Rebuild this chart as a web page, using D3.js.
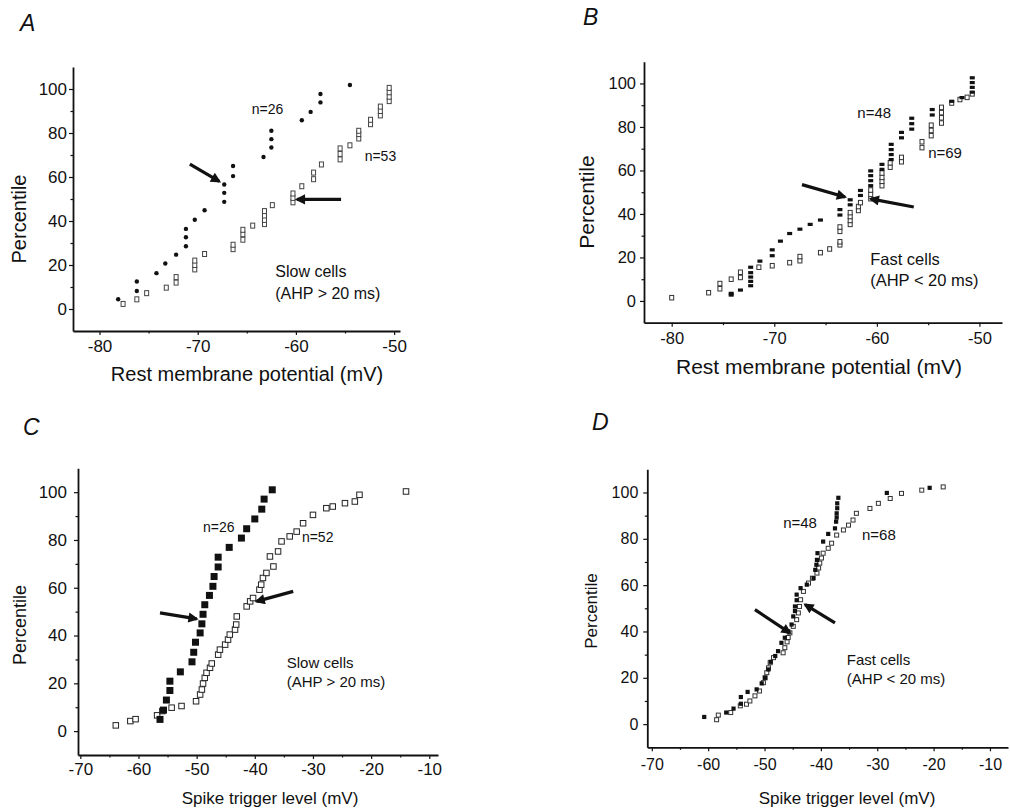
<!DOCTYPE html>
<html>
<head>
<meta charset="utf-8">
<script src="https://cdn.jsdelivr.net/npm/d3@7"></script>
<style>
  body { margin: 0; background: #fff; }
  svg { display: block; }
  text { font-family: "Liberation Sans", Arial, Helvetica, sans-serif; fill: #111; }
</style>
</head>
<body>
<svg id="fig" width="1010" height="810"></svg>
<script>
// ---- Cumulative distributions: [membrane potential (mV), percentile] ----

// A: rest membrane potential, slow cells
const restSlowShort = [ // n=26, filled circles
  [-78.1,4.4],[-76.2,8.2],[-76.2,12.5],[-74.2,16.3],[-73.3,20.7],[-72.2,24.7],[-71.2,28.5],
  [-71.2,32.6],[-71.2,36.4],[-70.3,40.6],[-69.3,44.9],[-67.3,48.7],[-67.3,52.8],[-67.3,56.6],
  [-66.4,60.4],[-66.4,65.0],[-63.3,69.1],[-62.5,73.4],[-62.5,77.2],[-62.5,81.0],[-59.4,85.8],
  [-58.5,89.6],[-57.5,93.9],[-57.5,97.7],[-54.5,101.8]
];
const restSlowLong = [ // n=53, open squares
  [-77.6,2.3],[-76.2,4.4],[-75.2,7.2],[-73.2,9.7],[-72.2,12.0],[-72.2,14.5],[-70.3,18.0],
  [-70.3,20.0],[-70.3,22.0],[-69.3,25.0],[-66.4,27.2],[-66.4,29.2],[-65.4,31.5],[-65.4,34.0],
  [-65.4,36.0],[-64.4,37.9],[-63.2,38.6],[-63.2,40.5],[-63.2,42.5],[-63.2,44.5],[-62.4,47.2],
  [-60.3,48.5],[-60.3,50.5],[-60.3,52.5],[-59.4,55.8],[-58.2,59.0],[-58.2,62.0],[-57.4,65.7],
  [-55.5,68.0],[-55.5,70.5],[-55.5,73.0],[-54.5,74.4],[-53.6,77.5],[-53.6,79.5],[-53.6,81.0],
  [-52.4,84.0],[-52.4,86.0],[-51.4,88.0],[-51.4,90.0],[-51.4,92.0],[-50.5,94.5],[-50.5,96.5],
  [-50.5,98.5],[-50.5,100.5]
];

// B: rest membrane potential, fast cells
const restFastShort = [ // n=48, filled
  [-74.2,2.7],[-74.2,3.5],[-73.3,5.0],[-72.3,7.0],[-72.3,9.0],[-72.3,11.0],[-72.3,13.0],
  [-72.3,15.5],[-71.4,18.3],[-70.2,20.8],[-70.2,23.5],[-69.4,27.5],[-68.5,31.0],[-67.5,33.0],
  [-66.5,35.2],[-65.5,37.2],[-63.6,39.5],[-63.6,42.0],[-62.6,44.2],[-62.6,46.5],[-61.6,48.5],
  [-61.6,50.8],[-60.6,53.0],[-60.6,55.3],[-60.6,57.6],[-60.6,59.8],[-59.5,60.5],[-59.5,62.8],
  [-58.6,65.0],[-58.6,67.3],[-58.6,69.6],[-58.6,72.0],[-57.6,75.0],[-57.6,77.5],[-56.6,79.0],
  [-56.6,81.5],[-56.6,84.0],[-54.6,85.5],[-54.6,88.0],[-52.7,91.8],[-51.7,93.5],[-50.7,96.0],
  [-50.7,98.2],[-50.7,100.4],[-50.7,102.6]
];
const restFastLong = [ // n=69, open
  [-80.0,1.5],[-76.4,3.8],[-75.3,5.6],[-75.3,8.0],[-74.2,10.0],[-73.3,10.8],[-73.3,13.2],
  [-71.5,15.5],[-70.2,16.2],[-68.5,17.6],[-67.5,18.5],[-67.5,20.4],[-65.5,22.2],[-64.6,23.9],
  [-63.6,25.8],[-63.6,27.2],[-63.6,32.0],[-63.6,34.0],[-62.6,35.2],[-62.6,37.0],[-62.6,38.8],
  [-62.6,40.6],[-61.8,41.6],[-61.8,43.4],[-61.6,45.2],[-60.6,47.0],[-60.6,49.0],[-60.6,51.0],
  [-59.5,53.0],[-59.5,55.0],[-59.5,56.8],[-59.5,58.8],[-58.7,61.5],[-58.7,63.5],[-57.6,64.0],
  [-57.6,66.0],[-55.6,70.5],[-55.6,73.2],[-54.7,76.0],[-54.7,78.4],[-54.7,80.8],[-53.7,81.8],
  [-53.7,84.2],[-53.7,86.6],[-53.7,89.0],[-52.7,91.0],[-51.9,92.6],[-51.2,93.6],[-50.7,95.2]
];

// C: spike trigger level, slow cells
const triggerSlowShort = [ // n=26, filled squares
  [-56.3,4.9],[-55.7,8.8],[-55.2,13.0],[-54.6,17.0],[-54.6,20.9],[-52.8,24.8],[-50.8,29.0],
  [-50.5,33.0],[-50.2,37.2],[-49.4,41.1],[-49.1,44.9],[-48.9,48.9],[-48.6,52.9],[-47.8,56.8],
  [-47.2,60.6],[-47.0,64.7],[-46.3,68.7],[-46.3,72.8],[-44.4,76.9],[-42.3,80.8],[-41.4,84.7],
  [-40.0,88.8],[-38.8,92.9],[-38.4,97.1],[-37.0,101.0]
];
const triggerSlowLong = [ // n=52, open squares
  [-63.9,2.4],[-61.4,4.2],[-60.5,5.0],[-56.8,6.6],[-55.9,8.4],[-54.3,9.8],[-52.6,10.5],
  [-50.1,12.5],[-49.4,15.3],[-49.1,17.4],[-48.9,19.9],[-48.6,22.3],[-48.3,24.4],[-47.7,26.5],
  [-47.4,28.3],[-46.3,32.0],[-46.0,34.1],[-45.1,36.2],[-44.6,38.3],[-44.3,40.4],[-43.4,42.5],
  [-43.2,44.6],[-43.1,48.0],[-41.4,52.2],[-40.8,54.3],[-40.3,55.7],[-39.2,59.2],[-38.9,61.3],
  [-38.6,64.1],[-38.0,66.2],[-36.8,68.9],[-37.4,73.1],[-36.0,75.2],[-35.4,79.4],[-34.0,81.5],
  [-32.8,83.5],[-31.7,87.0],[-30.0,90.5],[-27.7,93.3],[-26.6,94.0],[-24.5,95.4],[-22.8,96.1],
  [-22.0,98.9],[-14.0,100.3]
];

// D: spike trigger level, fast cells
const triggerFastShort = [ // n=48, filled
  [-60.7,3.1],[-56.8,5.0],[-55.5,6.7],[-54.2,8.8],[-54.2,11.7],[-53.0,13.9],[-51.4,15.0],
  [-50.5,17.6],[-49.9,20.0],[-49.3,23.6],[-48.9,26.9],[-48.1,29.4],[-47.6,31.5],[-47.0,35.1],
  [-46.4,37.3],[-45.8,40.1],[-45.2,43.0],[-44.9,46.5],[-44.6,48.8],[-44.6,50.8],[-44.3,53.5],
  [-44.3,55.9],[-43.6,58.7],[-42.5,60.2],[-41.3,63.0],[-41.0,66.6],[-40.8,68.8],[-40.7,70.9],
  [-40.6,73.8],[-39.6,78.8],[-38.7,82.1],[-37.5,84.5],[-37.3,87.4],[-37.2,89.2],[-37.2,91.0],
  [-37.1,93.2],[-37.1,95.3],[-36.9,97.7],[-28.3,99.8],[-20.7,102.0]
];
const triggerFastLong = [ // n=68, open
  [-58.5,1.9],[-58.2,3.9],[-56.0,5.0],[-54.3,7.9],[-53.2,8.6],[-52.6,10.0],[-51.7,12.2],
  [-50.9,14.3],[-50.2,17.9],[-49.9,20.0],[-49.6,22.2],[-49.3,24.3],[-49.0,26.5],[-48.4,28.7],
  [-46.7,30.8],[-46.4,33.0],[-46.0,35.5],[-45.8,37.4],[-45.5,39.4],[-44.9,42.2],[-44.3,45.1],
  [-44.0,48.0],[-43.8,50.8],[-43.6,53.7],[-43.1,57.3],[-42.2,60.9],[-41.5,63.0],[-40.7,65.2],
  [-40.4,67.4],[-40.2,69.5],[-39.9,71.7],[-39.6,73.8],[-38.7,75.9],[-38.1,78.1],[-37.2,81.6],
  [-36.0,83.8],[-35.1,85.9],[-34.3,88.1],[-33.7,91.0],[-31.3,93.1],[-29.8,95.3],[-27.7,97.4],
  [-25.7,99.6],[-22.1,101.0],[-18.3,102.4]
];

// ---- Axis ticks ----
const pctTicks = [0, 20, 40, 60, 80, 100];
const pctMinor = [10, 30, 50, 70, 90];
const restTicks = [-80, -70, -60, -50];
const restMinor = [-75, -65, -55];
const trigTicks = [-70, -60, -50, -40, -30, -20, -10];
const trigMinor = [-65, -55, -45, -35, -25, -15];

// ---- Annotations (data units) ----
const notesA = [["n=26", -64.5, 90.9], ["n=53", -53.0, 69.4], ["Slow cells", -62.1, 16.9], ["(AHP > 20 ms)", -62.1, 7.3]];
const notesB = [["n=48", -61.9, 86.4], ["n=69", -55.0, 68.1], ["Fast cells", -60.65, 19.1], ["(AHP < 20 ms)", -60.65, 9.5]];
const notesC = [["n=26", -48.9, 85.5], ["n=52", -31.9, 81.3], ["Slow cells", -34.5, 28.7], ["(AHP > 20 ms)", -34.5, 20.8]];
const notesD = [["n=48", -46.7, 86.8], ["n=68", -32.7, 81.6], ["Fast cells", -35.4, 27.9], ["(AHP < 20 ms)", -35.4, 19.8]];

const arrowsA = [[[-70.8, 65.8], [-67.8, 58.0]], [[-55.4, 49.8], [-59.9, 49.8]]];
const arrowsB = [[[-67.3, 53.5], [-63.1, 47.8]], [[-56.4, 43.2], [-60.6, 46.9]]];
const arrowsC = [[[-56.3, 49.5], [-50.0, 47.0]], [[-33.4, 58.5], [-39.7, 54.3]]];
const arrowsD = [[[-51.7, 49.4], [-45.5, 39.4]], [[-37.5, 43.7], [-42.8, 51.6]]];

// ---- Panel layout ----
const panels = [
  { letter: "A", letterAt: [20, 31], xDomain: [-82.7, -49.4], xRange: [73, 400], yRange: [331, 67],
    ticks: restTicks, minor: restMinor, tickFont: 17, yPad: 2, xPad: 5,
    xTitle: "Rest membrane potential (mV)", xTitleAt: [247, 381], xTitleFont: 20,
    yTitleAt: [19, 219], yTitleFont: 20,
    series: [
      { data: restSlowLong, mark: "open", w: 4, h: 5, stroke: "#444" },
      { data: restSlowShort, mark: "circle", r: 2.2 }
    ],
    notes: notesA, nFont: 14, labelFont: 16, arrows: arrowsA },
  { letter: "B", letterAt: [583, 25], xDomain: [-82.7, -47.8], xRange: [644, 1002], yRange: [322.7, 61.7],
    ticks: restTicks, minor: restMinor, tickFont: 16.5, yPad: 4, xPad: 6,
    xTitle: "Rest membrane potential (mV)", xTitleAt: [819, 374], xTitleFont: 21,
    yTitleAt: [586, 202], yTitleFont: 21,
    series: [
      { data: restFastLong, mark: "open", w: 4, h: 4.5, stroke: "#333" },
      { data: restFastShort, mark: "filled", w: 5, h: 3.2 }
    ],
    notes: notesB, nFont: 15, labelFont: 16.5, arrows: arrowsB },
  { letter: "C", letterAt: [23, 435], xDomain: [-70.4, -8.5], xRange: [78, 438], yRange: [755, 468.3],
    ticks: trigTicks, minor: trigMinor, tickFont: 17, yPad: 7, xPad: 4,
    xTitle: "Spike trigger level (mV)", xTitleAt: [270, 804], xTitleFont: 17,
    yTitleAt: [20, 625], yTitleFont: 18,
    series: [
      { data: triggerSlowLong, mark: "open", w: 5.5, h: 5.5, stroke: "#222" },
      { data: triggerSlowShort, mark: "filled", w: 7, h: 7 }
    ],
    notes: notesC, nFont: 14, labelFont: 15, arrows: arrowsC },
  { letter: "D", letterAt: [592, 430], xDomain: [-70.8, -6.8], xRange: [647.3, 1008], yRange: [747.3, 469.3],
    ticks: trigTicks, minor: trigMinor, tickFont: 16, yPad: 5, xPad: 7,
    xTitle: "Spike trigger level (mV)", xTitleAt: [847, 804], xTitleFont: 17,
    yTitleAt: [591, 611], yTitleFont: 17,
    series: [
      { data: triggerFastLong, mark: "open", w: 4, h: 4, stroke: "#333" },
      { data: triggerFastShort, mark: "filled", w: 4.2, h: 4.2 }
    ],
    notes: notesD, nFont: 15, labelFont: 15, arrows: arrowsD }
];

// plain hyphen-minus tick labels
const plainNum = d => String(d);

const svg = d3.select("#fig");
svg.append("rect").attr("width", 1010).attr("height", 810).attr("fill", "#fff");

const defs = svg.append("defs");
defs.append("marker")
  .attr("id", "head").attr("viewBox", "0 0 10 10")
  .attr("refX", 8).attr("refY", 5)
  .attr("markerWidth", 4.2).attr("markerHeight", 3.2)
  .attr("markerUnits", "strokeWidth").attr("orient", "auto")
  .append("path").attr("d", "M0,0 L10,5 L0,10 Z").attr("fill", "#111");

panels.forEach(p => {
  const x = d3.scaleLinear().domain(p.xDomain).range(p.xRange);
  const y = d3.scaleLinear().domain([-10, 110]).range(p.yRange);
  const g = svg.append("g");
  const x0 = p.xRange[0], y0 = p.yRange[0];

  // panel letter
  g.append("text").attr("x", p.letterAt[0]).attr("y", p.letterAt[1])
    .attr("font-size", 23).attr("font-style", "italic").text(p.letter);

  // y axis (major + minor)
  const yAx = g.append("g").attr("transform", `translate(${x0},0)`)
    .call(d3.axisLeft(y).tickValues(pctTicks).tickFormat(plainNum)
      .tickSize(4).tickSizeOuter(0).tickPadding(p.yPad));
  g.append("g").attr("transform", `translate(${x0},0)`)
    .call(d3.axisLeft(y).tickValues(pctMinor).tickSize(2.5).tickFormat(""))
    .call(s => s.select(".domain").remove());
  yAx.selectAll("text").attr("font-size", p.tickFont).attr("font-family", null).attr("fill", "#111");

  // x axis (major + minor)
  const xAx = g.append("g").attr("transform", `translate(0,${y0})`)
    .call(d3.axisBottom(x).tickValues(p.ticks).tickFormat(plainNum)
      .tickSize(4).tickSizeOuter(0).tickPadding(p.xPad));
  g.append("g").attr("transform", `translate(0,${y0})`)
    .call(d3.axisBottom(x).tickValues(p.minor).tickSize(2.5).tickFormat(""))
    .call(s => s.select(".domain").remove());
  xAx.selectAll("text").attr("font-size", p.tickFont).attr("font-family", null).attr("fill", "#111");

  g.selectAll(".domain").attr("stroke", "#111").attr("stroke-width", 1.8);
  g.selectAll(".tick line").attr("stroke", "#111").attr("stroke-width", 1.2);

  // axis titles
  g.append("text").attr("x", p.xTitleAt[0]).attr("y", p.xTitleAt[1])
    .attr("text-anchor", "middle").attr("font-size", p.xTitleFont).text(p.xTitle);
  g.append("text")
    .attr("transform", `translate(${p.yTitleAt[0]},${p.yTitleAt[1]}) rotate(-90)`)
    .attr("text-anchor", "middle").attr("dominant-baseline", "central")
    .attr("font-size", p.yTitleFont).text("Percentile");

  // data markers
  p.series.forEach(s => {
    const sel = g.append("g").selectAll("*").data(s.data);
    if (s.mark === "circle") {
      sel.join("circle").attr("cx", d => x(d[0])).attr("cy", d => y(d[1]))
        .attr("r", s.r).attr("fill", "#111");
    } else if (s.mark === "filled") {
      sel.join("rect").attr("x", d => x(d[0]) - s.w / 2).attr("y", d => y(d[1]) - s.h / 2)
        .attr("width", s.w).attr("height", s.h).attr("fill", "#111");
    } else {
      sel.join("rect").attr("x", d => x(d[0]) - s.w / 2).attr("y", d => y(d[1]) - s.h / 2)
        .attr("width", s.w).attr("height", s.h)
        .attr("fill", "#fff").attr("stroke", s.stroke).attr("stroke-width", 1);
    }
  });

  // text notes
  p.notes.forEach(([t, vx, vy], i) => {
    g.append("text").attr("x", x(vx)).attr("y", y(vy)).attr("dy", "0.35em")
      .attr("font-size", i < 2 ? p.nFont : p.labelFont).text(t);
  });

  // arrows
  p.arrows.forEach(([a, b]) => {
    g.append("line")
      .attr("x1", x(a[0])).attr("y1", y(a[1])).attr("x2", x(b[0])).attr("y2", y(b[1]))
      .attr("stroke", "#111").attr("stroke-width", 3.2).attr("marker-end", "url(#head)");
  });
});
</script>
</body>
</html>
